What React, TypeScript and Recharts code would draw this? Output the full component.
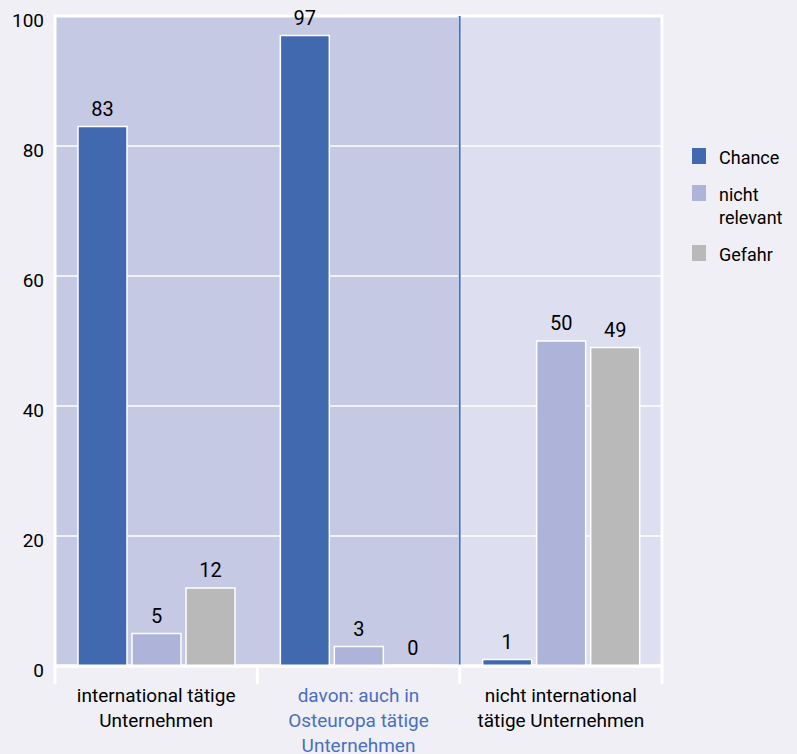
import React from "react";
import {
  BarChart,
  Bar,
  XAxis,
  YAxis,
  CartesianGrid,
  LabelList,
  Legend,
  ReferenceArea,
  ReferenceLine,
} from "recharts";

const categories = [
  "international tätige\nUnternehmen",
  "davon: auch in\nOsteuropa tätige\nUnternehmen",
  "nicht international\ntätige Unternehmen",
];
const chance = [83, 97, 1];
const nichtRelevant = [5, 3, 50];
const gefahr = [12, 0, 49];
const yTicks = [0, 20, 40, 60, 80, 100];

const SERIES = [
  { key: "chance", name: "Chance", color: "#4169b0" },
  { key: "nichtRelevant", name: "nicht relevant", color: "#adb3d9" },
  { key: "gefahr", name: "Gefahr", color: "#b9b9b9" },
];

const FONT = "Roboto, 'Liberation Sans', sans-serif";
const WIDTH = 797;
const HEIGHT = 754;
const MARGIN = { top: 16, right: 135, bottom: 0, left: 0 };
const Y_WIDTH = 55;
const BAND = (WIDTH - MARGIN.right - Y_WIDTH) / categories.length;

const data = categories.map((c, i) => ({
  category: c,
  chance: chance[i],
  nichtRelevant: nichtRelevant[i],
  gefahr: gefahr[i],
}));

function XTick(props: any) {
  const { x, y, payload, index } = props;
  const lines = String(payload.value).split("\n");
  const isLast = index === categories.length - 1;
  const color = index === 1 ? "#4a6fbf" : "#000";
  return (
    <g>
      <line x1={x - BAND / 2} x2={x - BAND / 2} y1={y} y2={y + 18} stroke="#fff" strokeWidth={3} />
      {isLast && (
        <line x1={x + BAND / 2} x2={x + BAND / 2} y1={y} y2={y + 18} stroke="#fff" strokeWidth={3} />
      )}
      <text x={x} y={y} textAnchor="middle" fill={color} fontSize={19} fontFamily={FONT}>
        {lines.map((l, i) => (
          <tspan key={i} x={x} dy={i === 0 ? 36 : 25}>
            {l}
          </tspan>
        ))}
      </text>
    </g>
  );
}

function YTick(props: any) {
  const { x, y, payload } = props;
  return (
    <text x={x} y={y} dy={11} textAnchor="end" fill="#000" fontSize={19} fontFamily={FONT}>
      {payload.value}
    </text>
  );
}

function LegendContent() {
  return (
    <div style={{ fontFamily: FONT, fontSize: 18, color: "#000" }}>
      {SERIES.map((s) => (
        <div key={s.key} style={{ display: "flex", alignItems: "flex-start", marginBottom: 14 }}>
          <div
            style={{
              width: 14,
              height: 16,
              marginTop: 2,
              background: s.color,
              flex: "none",
            }}
          />
          <div style={{ marginLeft: 13, lineHeight: "23px", width: 80 }}>{s.name}</div>
        </div>
      ))}
    </div>
  );
}

export default function App() {
  return (
    <div
      style={{
        position: "absolute",
        left: 0,
        top: 0,
        width: WIDTH,
        height: HEIGHT,
        background: "#efeff5",
      }}
    >
      <BarChart
        width={WIDTH}
        height={HEIGHT}
        data={data}
        margin={MARGIN}
        barCategoryGap={23}
        barGap={5}
      >
        <ReferenceArea
          x1={categories[0]}
          x2={categories[1]}
          fill="#c5c9e4"
          fillOpacity={1}
          stroke="#fff"
          strokeWidth={3}
          zIndex={-200}
        />
        <ReferenceArea
          x1={categories[2]}
          x2={categories[2]}
          fill="#dddff0"
          fillOpacity={1}
          stroke="#fff"
          strokeWidth={3}
          zIndex={-200}
        />
        <CartesianGrid vertical={false} stroke="#fff" strokeWidth={1.5} />
        <ReferenceLine
          x={categories[2]}
          position="start"
          stroke="#4470c4"
          strokeWidth={2}
        />
        <XAxis
          dataKey="category"
          height={88}
          interval={0}
          tickSize={0}
          tickMargin={0}
          axisLine={{ stroke: "#fff", strokeWidth: 3 }}
          tickLine={false}
          tick={<XTick />}
        />
        <YAxis
          width={Y_WIDTH}
          domain={[0, 100]}
          ticks={yTicks}
          axisLine={false}
          tickLine={false}
          tickSize={0}
          tickMargin={11}
          tick={<YTick />}
        />
        <Legend
          layout="horizontal"
          verticalAlign="middle"
          align="center"
          content={<LegendContent />}
          wrapperStyle={{ left: 692, top: 146, width: 105 }}
        />
        {SERIES.map((s) => (
          <Bar
            key={s.key}
            dataKey={s.key}
            name={s.name}
            fill={s.color}
            stroke="#fff"
            strokeWidth={1.5}
            minPointSize={0.5}
            isAnimationActive={false}
          >
            <LabelList
              dataKey={s.key}
              position="top"
              offset={11}
              fill="#000"
              fontSize={20}
              fontFamily={FONT}
            />
          </Bar>
        ))}
      </BarChart>
    </div>
  );
}
